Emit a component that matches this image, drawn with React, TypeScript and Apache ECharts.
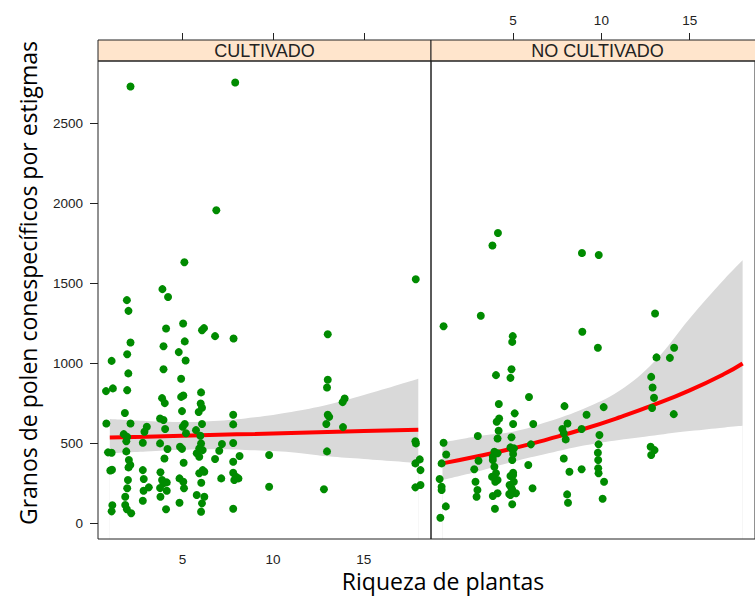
import React, { useEffect, useRef } from "react";
import * as echarts from "echarts";

const panelTitles = ["CULTIVADO", "NO CULTIVADO"];
const xTicks = [5, 10, 15];
const yTicks = [0, 500, 1000, 1500, 2000, 2500];
const xTitle = "Riqueza de plantas";
const yTitle = "Granos de polen conespecíficos por estigmas";

// [riqueza (jittered), granos]
const cultivado: [number, number][] = [
  [2.14, 2731], [7.91, 2756], [6.87, 1956], [5.11, 1631], [3.9, 1463], [17.86, 1525],
  [4.21, 1414], [1.94, 1394], [2.03, 1327], [5.04, 1248], [4.1, 1217], [6.08, 1206], [6.19, 1219], [6.8, 1169], [7.82, 1154], [13.01, 1181],
  [2.14, 1129], [5.13, 1136], [3.96, 1106], [1.96, 1056], [4.8, 1069], [5.18, 1017], [1.1, 1014], [2.02, 936], [3.96, 962], [4.93, 902],
  [0.79, 825], [1.17, 842], [1.96, 831], [6.03, 817], [3.88, 781], [4.03, 750], [4.93, 789], [5.05, 798], [6.01, 748], [6.08, 721], [5.9, 694], [4.98, 700],
  [13.01, 896], [12.97, 848], [13.94, 779], [13.83, 756], [13.01, 677], [13.09, 664], [12.93, 619], [13.85, 600],
  [1.83, 688], [0.81, 623], [2.14, 623], [7.8, 677], [7.8, 617], [3.77, 654], [3.96, 644], [4.05, 588], [5.13, 619], [5.02, 602], [5.2, 561],
  [6.08, 619], [5.75, 581], [5.99, 546], [3.04, 602], [2.91, 571], [2.82, 502], [1.77, 556], [1.96, 539], [1.91, 511], [7.8, 500], [9.78, 425],
  [7.18, 494], [7.03, 452], [6.8, 400], [6.03, 498], [5.93, 467], [5.79, 436], [5.93, 414], [6.12, 456], [4.87, 477], [4.98, 464], [5.07, 377],
  [4.18, 463], [4.01, 404], [3.77, 498], [0.9, 442], [1.1, 439], [1.91, 448], [2.05, 394], [2.13, 363], [2.03, 348], [1.03, 329], [1.12, 333],
  [2.82, 331], [2.87, 275], [2.86, 202], [3.15, 223], [3.79, 317], [3.88, 269], [4.14, 254], [3.96, 248], [3.77, 219], [4.14, 202],
  [4.84, 279], [5.05, 258], [5.09, 217], [5.93, 311], [6.12, 331], [6.21, 321], [6.04, 252], [7.14, 279], [7.8, 314], [7.95, 289], [8.09, 279], [7.86, 269],
  [7.8, 383], [8.15, 419], [9.78, 227], [12.8, 211], [12.97, 448], [17.84, 511], [17.87, 498], [17.84, 373], [18.08, 398], [18.12, 331], [17.84, 223], [18.12, 238],
  [2.0, 269], [1.96, 217], [1.85, 164], [1.85, 113], [1.94, 86], [2.18, 61], [1.14, 111], [1.1, 73], [2.82, 139], [3.79, 164], [4.1, 86], [4.84, 127],
  [5.79, 175], [6.21, 164], [6.08, 123], [6.03, 71], [7.8, 89],
];

const noCultivado: [number, number][] = [
  [4.14, 1814], [3.83, 1736], [8.9, 1689], [9.85, 1677], [1.06, 1231], [3.17, 1296], [4.98, 1169], [4.95, 1133], [8.92, 1196], [9.8, 1096],
  [13.04, 1311], [13.12, 1036], [13.88, 1033], [14.12, 1096], [4.03, 925], [4.85, 908], [4.91, 962], [5.9, 788], [12.82, 914], [12.9, 848],
  [12.98, 783], [12.87, 719], [14.1, 681], [4.19, 744], [4.21, 654], [4.07, 633], [5.09, 686], [5.0, 619], [6.14, 619], [7.91, 731], [9.16, 677],
  [10.13, 725], [8.08, 623], [7.79, 588], [7.87, 561], [7.98, 523], [8.88, 588], [3.0, 544], [4.18, 577], [4.12, 529], [3.94, 446], [4.12, 436],
  [3.85, 394], [3.94, 352], [4.03, 311], [4.12, 269], [4.91, 536], [4.85, 473], [4.98, 456], [4.95, 394], [5.0, 314], [4.85, 294], [5.04, 258],
  [6.01, 492], [5.86, 363], [9.89, 550], [9.84, 492], [9.8, 439], [9.82, 394], [9.82, 342], [9.84, 311], [10.15, 258], [10.07, 152],
  [7.87, 404], [8.19, 321], [8.06, 179], [8.11, 127], [8.88, 336], [12.79, 477], [13.01, 456], [12.82, 425],
  [1.06, 502], [1.21, 429], [0.95, 373], [0.84, 275], [0.95, 227], [0.95, 206], [1.19, 104], [0.88, 33],
  [3.04, 389], [2.8, 336], [2.87, 258], [2.98, 206], [2.93, 164], [3.81, 289], [3.99, 258], [3.85, 169], [4.12, 186], [3.97, 89],
  [4.8, 238], [4.95, 206], [5.16, 186], [4.85, 175], [4.95, 117], [6.1, 217], [3.85, 414], [5.0, 431], [5.05, 467], [4.91, 217], [4.78, 181], [5.0, 300],
];

// fitted curves and confidence bands
const cultFitX = [1, 3, 5, 7, 9, 11, 13, 15, 18];
const cultFit = [535, 540, 546, 552, 557, 563, 569, 575, 584];
const cultLower = [435, 447, 458, 462, 455, 443, 417, 400, 375];
const cultUpper = [650, 638, 632, 640, 662, 695, 740, 800, 902];

const noCultFitX = [1, 3, 5, 7, 9, 11, 13, 15, 17, 18];
const noCultFit = [373, 418, 467, 525, 588, 660, 740, 830, 935, 998];
const noCultLower = [269, 322, 383, 436, 485, 520, 548, 575, 598, 608];
const noCultUpper = [504, 543, 571, 635, 715, 825, 1010, 1280, 1530, 1644];

const X_MIN = 0.35;
const X_MAX = 18.7;
const Y_MIN = -100;
const Y_MAX = 2890;

const INK = "#222";
const TICK_FONT = "Liberation Sans, Arial, sans-serif";
const TITLE_FONT = "'Open Sans', 'Noto Sans', sans-serif";

function zip(xs: number[], ys: number[]) {
  return xs.map((x, i) => [x, ys[i]]);
}

function xAxisCfg(grid: number, pos: "top" | "bottom", labels: boolean, offset: number) {
  return {
    type: "value",
    gridIndex: grid,
    position: pos,
    offset,
    min: X_MIN,
    max: X_MAX,
    splitLine: { show: false },
    axisLine: { show: false },
    axisTick: {
      show: true,
      inside: false,
      length: 7,
      customValues: xTicks,
      lineStyle: { color: INK, width: 1 },
    },
    axisLabel: {
      show: labels,
      customValues: xTicks,
      margin: 13,
      color: INK,
      fontSize: 13.5,
      fontFamily: TICK_FONT,
      formatter: (v: number) => String(v),
    },
  };
}

// confidence band: grey area down to the axis, masked below the lower bound with white
function bandSeries(xi: number, yi: number, xs: number[], lo: number[], hi: number[]) {
  return [
    {
      type: "line",
      xAxisIndex: xi,
      yAxisIndex: yi,
      data: zip(xs, hi),
      smooth: 0.4,
      symbol: "none",
      lineStyle: { width: 0, opacity: 0 },
      areaStyle: { color: "#d9d9d9", opacity: 1, origin: "start" },
      silent: true,
      z: 1,
    },
    {
      type: "line",
      xAxisIndex: xi,
      yAxisIndex: yi,
      data: zip(xs, lo),
      smooth: 0.4,
      symbol: "none",
      lineStyle: { width: 0, opacity: 0 },
      areaStyle: { color: "#ffffff", opacity: 1, origin: "start" },
      silent: true,
      z: 2,
    },
  ];
}

export default function App() {
  const ref = useRef<HTMLDivElement>(null);

  useEffect(() => {
    if (!ref.current) return;
    const chart = echarts.init(ref.current, undefined, { renderer: "svg" });

    const gridTop = 61;
    const gridH = 478;
    const panelW = 333;
    const lefts = [98, 431];

    const option: any = {
      animation: false,
      backgroundColor: "#fff",
      grid: lefts.map((l) => ({
        left: l,
        top: gridTop,
        width: panelW,
        height: gridH,
        show: true,
        borderColor: INK,
        borderWidth: 1,
        backgroundColor: "transparent",
        z: 10,
      })),
      xAxis: [
        xAxisCfg(0, "bottom", true, 0),
        xAxisCfg(0, "top", false, 21),
        xAxisCfg(1, "bottom", false, 0),
        xAxisCfg(1, "top", true, 21),
      ],
      yAxis: [
        {
          type: "value",
          gridIndex: 0,
          position: "left",
          min: Y_MIN,
          max: Y_MAX,
          splitLine: { show: false },
          axisLine: { show: false },
          axisTick: {
            show: true,
            length: 8,
            customValues: yTicks,
            lineStyle: { color: INK, width: 1 },
          },
          axisLabel: {
            customValues: yTicks,
            margin: 15,
            color: INK,
            fontSize: 13.5,
            fontFamily: TICK_FONT,
            formatter: (v: number) => String(v),
          },
        },
        {
          type: "value",
          gridIndex: 1,
          min: Y_MIN,
          max: Y_MAX,
          splitLine: { show: false },
          axisLine: { show: false },
          axisTick: { show: false },
          axisLabel: { show: false },
        },
      ],
      series: [
        ...bandSeries(0, 0, cultFitX, cultLower, cultUpper),
        ...bandSeries(2, 1, noCultFitX, noCultLower, noCultUpper),
        {
          type: "line",
          xAxisIndex: 0,
          yAxisIndex: 0,
          data: zip(cultFitX, cultFit),
          smooth: true,
          symbol: "none",
          lineStyle: { color: "#ff0000", width: 4 },
          z: 3,
        },
        {
          type: "line",
          xAxisIndex: 2,
          yAxisIndex: 1,
          data: zip(noCultFitX, noCultFit),
          smooth: true,
          symbol: "none",
          lineStyle: { color: "#ff0000", width: 4 },
          z: 3,
        },
        {
          type: "scatter",
          xAxisIndex: 0,
          yAxisIndex: 0,
          data: cultivado,
          symbol: "circle",
          symbolSize: 8,
          itemStyle: { color: "#008b00", opacity: 1 },
          z: 4,
        },
        {
          type: "scatter",
          xAxisIndex: 2,
          yAxisIndex: 1,
          data: noCultivado,
          symbol: "circle",
          symbolSize: 8,
          itemStyle: { color: "#008b00", opacity: 1 },
          z: 4,
        },
      ],
      graphic: [
        ...lefts.map((l, i) => ({
          type: "group",
          children: [
            {
              type: "rect",
              shape: { x: l, y: 40, width: panelW, height: 21 },
              style: { fill: "#ffe5cc", stroke: INK, lineWidth: 1 },
            },
            {
              type: "text",
              x: l + panelW / 2,
              y: 51,
              style: {
                text: panelTitles[i],
                fill: INK,
                fontSize: 18,
                fontFamily: TICK_FONT,
                align: "center",
                verticalAlign: "middle",
              },
            },
          ],
        })),
        {
          type: "text",
          x: 443,
          y: 581,
          style: {
            text: xTitle,
            fill: "#000",
            fontSize: 23,
            lineHeight: 23,
            fontFamily: TITLE_FONT,
            align: "center",
            verticalAlign: "middle",
          },
        },
        {
          type: "text",
          x: 28,
          y: 283,
          rotation: Math.PI / 2,
          style: {
            text: yTitle,
            fill: "#000",
            fontSize: 23,
            lineHeight: 23,
            fontFamily: TITLE_FONT,
            align: "center",
            verticalAlign: "middle",
          },
        },
      ],
    };

    chart.setOption(option);
    return () => chart.dispose();
  }, []);

  return (
    <div
      ref={ref}
      style={{ position: "absolute", left: 0, top: 0, width: 755, height: 596, background: "#fff" }}
    />
  );
}
